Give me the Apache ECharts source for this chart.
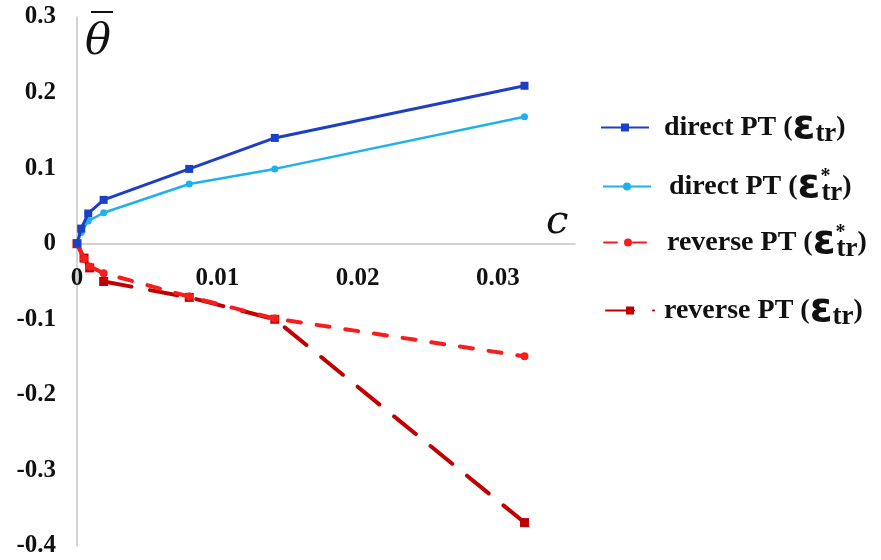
<!DOCTYPE html>
<html>
<head>
<meta charset="utf-8">
<style>
  html, body { margin: 0; padding: 0; background: #fff; }
  #chart { width: 881px; height: 560px; }
</style>
<script src="https://cdn.jsdelivr.net/npm/echarts@6/dist/echarts.min.js"></script>
</head>
<body>
<div id="chart"></div>
<script>
// Mean relative change of theta versus concentration c, for the direct and reverse phase transitions
const directTr      = [[0, 0], [0.0003, 0.02], [0.0008, 0.04], [0.0019, 0.058], [0.008, 0.099], [0.0141, 0.14], [0.0319, 0.209]];
const directTrStar  = [[0, 0], [0.0003, 0.015], [0.0008, 0.03], [0.0019, 0.041], [0.008, 0.079], [0.0141, 0.099], [0.0319, 0.168]];
const reverseTrStar = [[0, 0], [0.0005, -0.02], [0.0009, -0.03], [0.0019, -0.039], [0.008, -0.07], [0.0141, -0.099], [0.0319, -0.149]];
const reverseTr     = [[0, 0], [0.0005, -0.019], [0.0009, -0.032], [0.0019, -0.05], [0.008, -0.071], [0.0141, -0.1], [0.0319, -0.369]];

const seriesNames = ['direct PT (εtr)', 'direct PT (ε*tr)', 'reverse PT (ε*tr)', 'reverse PT (εtr)'];
const xTicks = [0, 0.01, 0.02, 0.03];
const yTicks = [0.3, 0.2, 0.1, 0, -0.1, -0.2, -0.3, -0.4];

const SERIF = '"Liberation Serif", "Times New Roman", serif';
const GRID = { left: 77, right: 306, top: 17, bottom: 14 };

const rich = {
  p5: { fontSize: 10, width: 5, lineHeight: 40 },
  p10: { fontSize: 10, width: 10, lineHeight: 40 },
  p13: { fontSize: 10, width: 13, lineHeight: 40 },
  a: { fontFamily: SERIF, fontWeight: 'bold', fontSize: 28, color: '#111', lineHeight: 40, verticalAlign: 'middle' },
  e: { fontFamily: '"DejaVu Sans", sans-serif', fontWeight: 'bold', fontSize: 41, color: '#111', lineHeight: 40, verticalAlign: 'middle' },
  s: { fontFamily: SERIF, fontWeight: 'bold', fontSize: 27, color: '#111', lineHeight: 26, verticalAlign: 'bottom' },
  st: { fontFamily: SERIF, fontWeight: 'bold', fontSize: 20, color: '#111', lineHeight: 18, verticalAlign: 'top', width: 1 }
};

function legendAt(name, left, top, gap) {
  return {
    data: [name],
    left: left,
    top: top,
    padding: 0,
    orient: 'vertical',
    itemWidth: 48,
    itemHeight: 10,
    itemGap: 0,
    formatter: n => {
      const star = n.indexOf('*') >= 0;
      const head = n.slice(0, n.indexOf('(') + 1);
      return '{p' + gap + '| }{a|' + head + '}{e|ε}' + (star ? '{st|*}' : '') + '{s|tr}{a|)}';
    },
    textStyle: { rich: rich }
  };
}

const chart = echarts.init(document.getElementById('chart'), null, { renderer: 'canvas' });

const axisFont = { fontFamily: SERIF, fontWeight: 'bold', fontSize: 25, color: '#111' };

chart.setOption({
  backgroundColor: '#ffffff',
  animation: false,
  grid: Object.assign({ containLabel: false, outerBoundsMode: 'none' }, GRID),
  legend: [
    legendAt(seriesNames[0], 600, 107, 10),
    legendAt(seriesNames[1], 602, 166, 13),
    legendAt(seriesNames[2], 603, 222, 10),
    legendAt(seriesNames[3], 605, 290, 5)
  ],
  xAxis: {
    type: 'value',
    min: 0,
    max: 0.0355,
    interval: 0.01,
    position: 'bottom',
    axisLine: { onZero: false, lineStyle: { color: '#c4c4c4', width: 1.5 } },
    axisTick: { show: false },
    splitLine: { show: false },
    axisLabel: Object.assign({
      showMaxLabel: false,
      margin: 22,
      formatter: v => {
        const r = Math.round(v * 1000) / 1000;
        return xTicks.indexOf(r) >= 0 ? String(r) : '';
      }
    }, axisFont)
  },
  yAxis: {
    type: 'value',
    min: -0.4,
    max: 0.3,
    interval: 0.1,
    axisLine: { show: true, onZero: false, lineStyle: { color: '#c4c4c4', width: 1.5 } },
    axisTick: { show: false },
    splitLine: { show: false },
    axisLabel: Object.assign({
      margin: 21,
      formatter: v => {
        const r = Math.round(v * 10) / 10;
        return yTicks.indexOf(r) >= 0 ? String(r) : '';
      }
    }, axisFont)
  },
  graphic: [
    {
      type: 'text',
      left: 85,
      top: 21,
      style: { text: 'θ', fontFamily: '"DejaVu Serif", serif', fontStyle: 'italic', fontSize: 43, fill: '#111' }
    },
    {
      type: 'rect',
      left: 91,
      top: 11,
      shape: { width: 22, height: 2 },
      style: { fill: '#111' }
    },
    {
      type: 'text',
      left: 546,
      top: 203,
      style: { text: 'c', fontFamily: '"DejaVu Serif", serif', fontStyle: 'italic', fontSize: 40, fill: '#111' }
    }
  ],
  series: [
    {
      name: seriesNames[0],
      type: 'line',
      data: directTr,
      symbol: 'rect',
      symbolSize: 8,
      showAllSymbol: true,
      lineStyle: { color: '#1d3fc6', width: 3 },
      itemStyle: { color: '#1d3fc6' },
      z: 4
    },
    {
      name: seriesNames[1],
      type: 'line',
      data: directTrStar,
      symbol: 'circle',
      symbolSize: 7,
      showAllSymbol: true,
      lineStyle: { color: '#1eb1ee', width: 2.5 },
      itemStyle: { color: '#1eb1ee' },
      z: 3
    },
    {
      name: seriesNames[2],
      type: 'line',
      data: reverseTrStar,
      symbol: 'circle',
      symbolSize: 8,
      showAllSymbol: true,
      lineStyle: { color: '#f51d1d', width: 4, type: [13, 16], cap: 'round' },
      itemStyle: { color: '#f51d1d' },
      z: 3
    },
    {
      name: seriesNames[3],
      type: 'line',
      data: reverseTr,
      symbol: 'rect',
      symbolSize: 9,
      showAllSymbol: true,
      lineStyle: { color: '#c00000', width: 4, type: [28, 19], cap: 'round' },
      itemStyle: { color: '#c00000' },
      z: 2
    }
  ]
});

// Move the horizontal axis up so it crosses the vertical axis at zero
const zeroY = chart.convertToPixel({ yAxisIndex: 0 }, 0);
const gridBottomY = chart.getHeight() - GRID.bottom;
chart.setOption({ xAxis: { offset: -(gridBottomY - zeroY) } });
</script>
</body>
</html>
